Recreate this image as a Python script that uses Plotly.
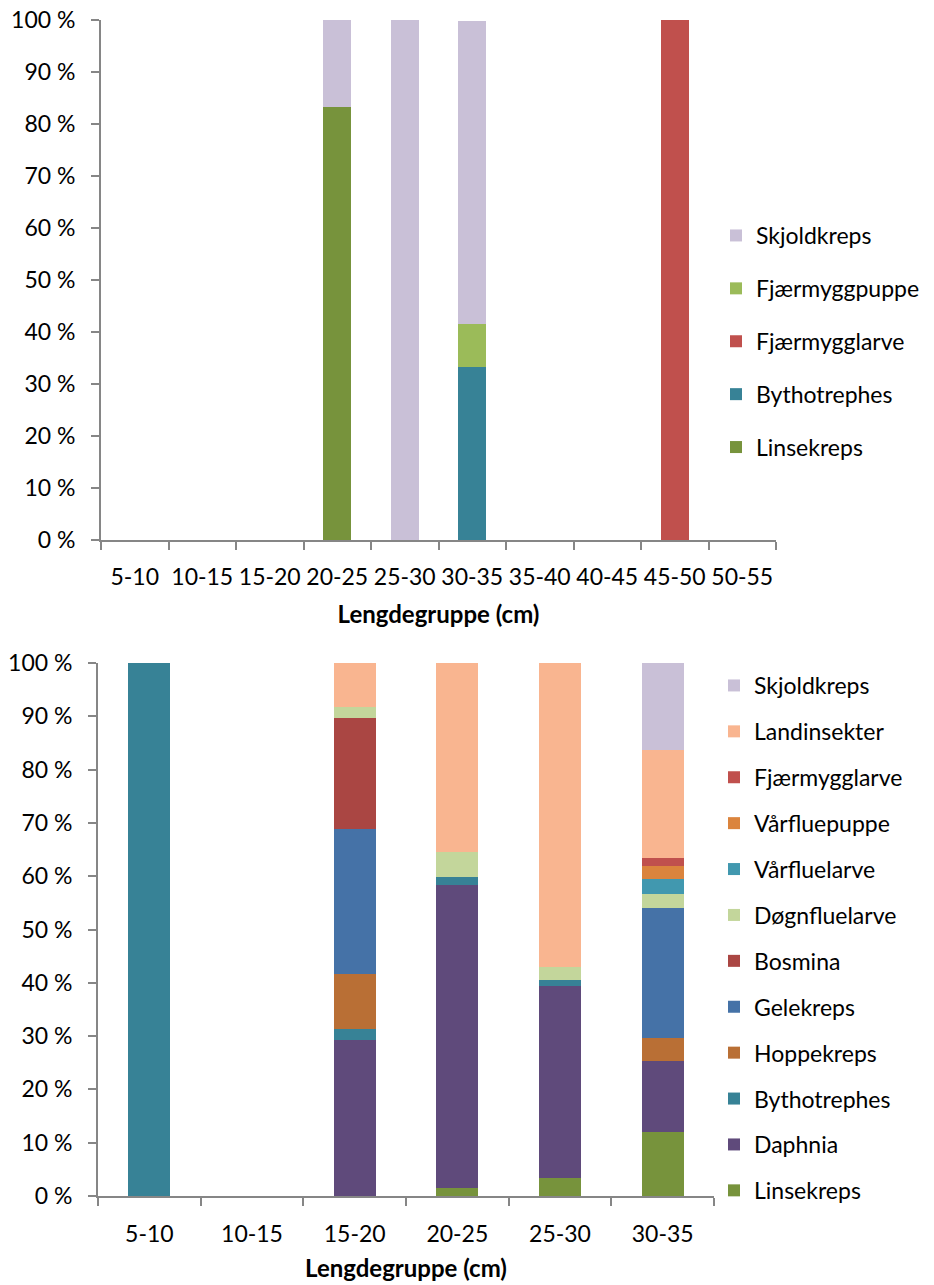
import plotly.graph_objects as go

# ---------------- data ----------------
top_categories = ["5-10", "10-15", "15-20", "20-25", "25-30", "30-35", "35-40", "40-45", "45-50", "50-55"]
top_linsekreps = [0, 0, 0, 83.3, 0, 0, 0, 0, 0, 0]
top_bythotrephes = [0, 0, 0, 0, 0, 33.3, 0, 0, 0, 0]
top_fjaermygglarve = [0, 0, 0, 0, 0, 0, 0, 0, 100, 0]
top_fjaermyggpuppe = [0, 0, 0, 0, 0, 8.3, 0, 0, 0, 0]
top_skjoldkreps = [0, 0, 0, 16.7, 100, 58.3, 0, 0, 0, 0]

bot_categories = ["5-10", "10-15", "15-20", "20-25", "25-30", "30-35"]
bot_linsekreps = [0, 0, 0, 1.5, 3.3, 12.0]
bot_daphnia = [0, 0, 29.2, 56.9, 36.1, 13.4]
bot_bythotrephes = [100, 0, 2.1, 1.4, 1.2, 0]
bot_hoppekreps = [0, 0, 10.4, 0, 0, 4.2]
bot_gelekreps = [0, 0, 27.1, 0, 0, 24.4]
bot_bosmina = [0, 0, 20.8, 0, 0, 0]
bot_dognfluelarve = [0, 0, 2.1, 4.7, 2.4, 2.7]
bot_varfluelarve = [0, 0, 0, 0, 0, 2.7]
bot_varfluepuppe = [0, 0, 0, 0, 0, 2.6]
bot_fjaermygglarve = [0, 0, 0, 0, 0, 1.5]
bot_landinsekter = [0, 0, 8.3, 35.5, 57.0, 20.2]
bot_skjoldkreps = [0, 0, 0, 0, 0, 16.3]

y_tickvals = [0, 10, 20, 30, 40, 50, 60, 70, 80, 90, 100]
y_ticktext = ["0 %", "10 %", "20 %", "30 %", "40 %", "50 %", "60 %", "70 %", "80 %", "90 %", "100 %"]
x_title = "Lengdegruppe (cm)"

colors = {
    "Linsekreps": "#77933C",
    "Bythotrephes": "#378296",
    "Fjærmygglarve": "#C0504D",
    "Fjærmyggpuppe": "#9BBB59",
    "Skjoldkreps": "#C9C0D7",
    "Daphnia": "#5F4A7B",
    "Hoppekreps": "#B96F35",
    "Gelekreps": "#4572A7",
    "Bosmina": "#AA4643",
    "Døgnfluelarve": "#C3D69B",
    "Vårfluelarve": "#4198AF",
    "Vårfluepuppe": "#DB843D",
    "Landinsekter": "#F9B590",
}

FONT = "Lato, Carlito, Calibri, sans-serif"
FS = 23
FS_TITLE = 24

top_series = [
    ("Linsekreps", top_linsekreps),
    ("Bythotrephes", top_bythotrephes),
    ("Fjærmygglarve", top_fjaermygglarve),
    ("Fjærmyggpuppe", top_fjaermyggpuppe),
    ("Skjoldkreps", top_skjoldkreps),
]
bot_series = [
    ("Linsekreps", bot_linsekreps),
    ("Daphnia", bot_daphnia),
    ("Bythotrephes", bot_bythotrephes),
    ("Hoppekreps", bot_hoppekreps),
    ("Gelekreps", bot_gelekreps),
    ("Bosmina", bot_bosmina),
    ("Døgnfluelarve", bot_dognfluelarve),
    ("Vårfluelarve", bot_varfluelarve),
    ("Vårfluepuppe", bot_varfluepuppe),
    ("Fjærmygglarve", bot_fjaermygglarve),
    ("Landinsekter", bot_landinsekter),
    ("Skjoldkreps", bot_skjoldkreps),
]

fig = go.Figure()
for i, (name, vals) in enumerate(top_series):
    fig.add_trace(go.Bar(
        x=top_categories, y=vals, name=name, marker_color=colors[name],
        marker_line_width=0, xaxis="x", yaxis="y", legend="legend",
        legendgroup="t_" + name, legendrank=1000 - i, hoverinfo="skip",
    ))
for i, (name, vals) in enumerate(bot_series):
    fig.add_trace(go.Bar(
        x=bot_categories, y=vals, name=name, marker_color=colors[name],
        marker_line_width=0, xaxis="x2", yaxis="y2", legend="legend2",
        legendgroup="b_" + name, legendrank=1000 - i, hoverinfo="skip",
    ))

# body margin is removed by the post script, so the figure fills the window
W, H = 934, 1285
AX = "#868686"

def px_x(p):
    return p / W

def px_y(p):
    return 1 - p / H

axis_common = dict(
    showline=True, linecolor=AX, linewidth=2, ticks="outside", tickcolor=AX,
    ticklen=8, tickwidth=2, showgrid=False, zeroline=False, automargin=False,
    ticklabeloverflow="allow",
    tickfont=dict(family=FONT, size=FS, color="#000000"),
)

fig.update_layout(
    width=W, height=H,
    margin=dict(l=0, r=0, t=0, b=0, autoexpand=False),
    paper_bgcolor="white", plot_bgcolor="white",
    barmode="stack",
    bargap=0.59,
    showlegend=True,
    hovermode=False,
    font=dict(family=FONT, size=FS, color="#000000"),
    xaxis=dict(
        domain=[px_x(101), px_x(776)], anchor="y", type="category",
        tickson="boundaries", tickangle=0, ticklabelstandoff=15, **axis_common,
        title=dict(text="<b>" + x_title + "</b>", font=dict(family=FONT, size=FS_TITLE), standoff=18),
    ),
    yaxis=dict(
        domain=[px_y(540), px_y(20)], anchor="x", range=[0, 100],
        tickvals=y_tickvals, ticktext=y_ticktext, ticklabelstandoff=11, **axis_common,
    ),
    xaxis2=dict(
        domain=[px_x(98), px_x(714)], anchor="y2", type="category",
        tickson="boundaries", tickangle=0, ticklabelstandoff=16, **axis_common,
        title=dict(text="<b>" + x_title + "</b>", font=dict(family=FONT, size=FS_TITLE), standoff=15),
    ),
    yaxis2=dict(
        domain=[px_y(1196), px_y(663)], anchor="x2", range=[0, 100],
        tickvals=y_tickvals, ticktext=y_ticktext, ticklabelstandoff=11, **axis_common,
    ),
    legend=dict(
        x=px_x(716), xanchor="left", y=px_y(214), yanchor="top",
        traceorder="grouped", tracegroupgap=20,
        font=dict(family=FONT, size=FS, color="#000000"),
        bgcolor="rgba(0,0,0,0)", itemclick=False, itemdoubleclick=False,
    ),
    legend2=dict(
        x=px_x(714), xanchor="left", y=px_y(664), yanchor="top",
        traceorder="grouped", tracegroupgap=13,
        font=dict(family=FONT, size=FS, color="#000000"),
        bgcolor="rgba(0,0,0,0)", itemclick=False, itemdoubleclick=False,
    ),
)

fig.write_html(
    "out.html",
    config={"displayModeBar": False, "staticPlot": True},
    post_script="document.body.style.margin='0';document.body.style.padding='0';document.body.style.overflow='hidden';",
)
